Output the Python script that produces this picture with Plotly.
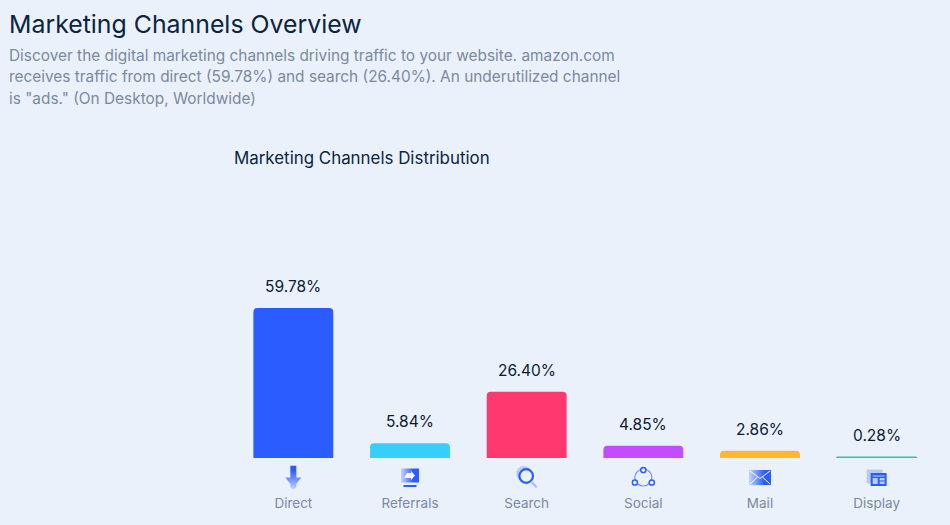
import base64
import plotly.graph_objects as go

categories = ["Direct", "Referrals", "Search", "Social", "Mail", "Display"]
shares = [59.78, 5.84, 26.40, 4.85, 2.86, 0.28]
share_labels = ["59.78%", "5.84%", "26.40%", "4.85%", "2.86%", "0.28%"]
bar_colors = ["#2B5CFF", "#36CFFB", "#FF3870", "#C44CFF", "#FFB730", "#25C99A"]
subtitle_lines = [
    "Discover the digital marketing channels driving traffic to your website. amazon.com",
    "receives traffic from direct (59.78%) and search (26.40%). An underutilized channel",
    'is "ads." (On Desktop, Worldwide)',
]

W, H = 950, 525
ML, MR, MT, MB = 234.6, 14.6, 170, 67
PW, PH = W - ML - MR, H - MT - MB
FONT = "Inter"
BG = "#EBF1FB"
GRAD = ('<defs><linearGradient id="v" x1="0" y1="0" x2="0" y2="1">'
        '<stop offset="0.2" stop-color="#2B5CFF"/><stop offset="1" stop-color="#BCD0FF"/>'
        '</linearGradient><linearGradient id="h" x1="1" y1="0" x2="0" y2="0">'
        '<stop offset="0.3" stop-color="#2B5CFF"/><stop offset="1" stop-color="#C4D4FF"/>'
        '</linearGradient></defs>')
ICONS = [
    '<path fill="url(#v)" d="M9 0H15V12H20L15 18.5Q15.5 23.5 12 23.5Q8.5 23.5 9 18.5L4 12H9Z"/>',
    '<path fill="url(#h)" d="M3 3H21V17H3Z"/><path fill="#fff" d="M9 7.5H13V5.5L17 10L13 14.5V12.5H6Z"/>'
    '<path fill="#2B5CFF" d="M5.5 19.5H18.5V21.5H5.5Z"/>',
    '<circle cx="9" cy="8" r="7.5" fill="#B9CCFF"/><circle cx="11.5" cy="10.5" r="6.8" fill="#EBF1FB" stroke="#2B5CFF" stroke-width="2.2"/>'
    '<path d="M16.5 16L22 22" stroke="#A9C0FF" stroke-width="2.4"/>',
    '<circle cx="12" cy="12" r="8.5" fill="none" stroke="#6F94FF" stroke-width="1.2"/>'
    '<g fill="#EBF1FB" stroke="#2B5CFF" stroke-width="1.5"><circle cx="12" cy="4.5" r="2.6"/>'
    '<circle cx="3.5" cy="17" r="2.6"/><circle cx="20.5" cy="17" r="2.6"/></g>',
    '<path fill="url(#h)" d="M1 4.5H23V19.5H1Z"/><path fill="none" stroke="#fff" stroke-width="1" d="M2 5.5L12 13L22 5.5M2 18.5L9.5 11.5M22 18.5L14.5 11.5"/>',
    '<path fill="#B5C9FF" d="M2 4H18V18H2Z"/><path fill="#2B5CFF" d="M6 7.5H22V20.5H6Z"/>'
    '<path fill="#E4ECFF" d="M8 10H20V11H8ZM8 12.5H13V18.5H8ZM15 12.5H20V15H15ZM15 16H20V18.5H15Z" opacity="0.8"/>',
]

images = []
for i, body in enumerate(ICONS):
    svg = f'<svg xmlns="http://www.w3.org/2000/svg" viewBox="0 0 24 24" width="24" height="24">{GRAD}{body}</svg>'
    uri = "data:image/svg+xml;base64," + base64.b64encode(svg.encode()).decode()
    images.append(dict(source=uri, xref="paper", yref="paper",
                       x=(i + 0.5) / len(categories), y=(H - MB - 477.5) / PH,
                       sizex=24 / PW, sizey=24 / PH, xanchor="center", yanchor="middle",
                       sizing="contain", layer="above"))

def top_text(text, px, py, size, color):
    return dict(text=text, xref="paper", yref="paper", x=(px - 3 - ML) / PW, y=(H - MB - py) / PH,
                xanchor="left", yanchor="middle", showarrow=False, align="left",
                font=dict(family=FONT, size=size, color=color))

annotations = [top_text("Marketing Channels Overview", 9, 24, 24.85, "#092540"),
               top_text("Marketing Channels Distribution", 235, 158, 16.9, "#092540")]
for line, py in zip(subtitle_lines, [55, 77, 98]):
    annotations.append(top_text(line, 9, py, 15.4, "#7A899E"))
for c, v, t in zip(categories, shares, share_labels):
    annotations.append(dict(x=c, y=v, text=t, xref="x", yref="y", yanchor="bottom", yshift=10,
                            showarrow=False, font=dict(family=FONT, size=15.5, color="#0B1A33")))

fig = go.Figure(go.Bar(
    x=categories, y=shares, width=80 / (PW / 6),
    marker=dict(color=bar_colors, cornerradius=4, line=dict(width=[0, 0, 0, 0, 0, 1.5], color=bar_colors)),
    hoverinfo="x+y",
))
fig.update_layout(
    width=W, height=H, margin=dict(l=ML, r=MR, t=MT, b=MB, autoexpand=False),
    paper_bgcolor=BG, plot_bgcolor=BG, showlegend=False,
    annotations=annotations, images=images, font=dict(family=FONT),
    xaxis=dict(type="category", showgrid=False, zeroline=False, showline=False, ticks="",
               ticklabelstandoff=35, tickfont=dict(family=FONT, size=13.5, color="#7A899E")),
    yaxis=dict(range=[0, PH / (150 / 59.78)], visible=False, showgrid=False, zeroline=False),
)
fig.write_html("out.html", post_script="document.body.style.margin='0';",
               config=dict(displayModeBar=False))
